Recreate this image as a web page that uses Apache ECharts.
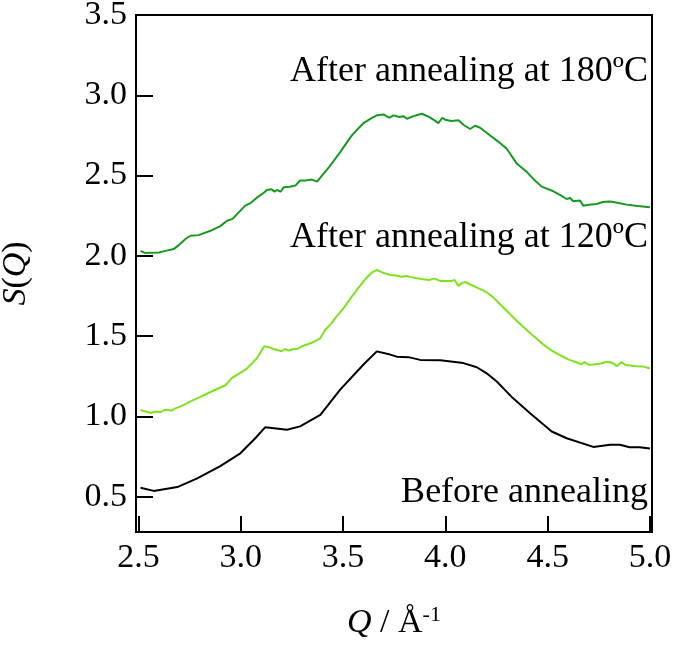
<!DOCTYPE html>
<html>
<head>
    <meta charset="utf-8">
    <title>S(Q)</title>
    <style type="text/css">
        * { margin: 0; padding: 0; }
        body { background: #fff; }
        #chart { width: 675px; height: 645px; }
    </style>
</head>
<body>
<div id="chart"></div>
<script src="https://cdn.jsdelivr.net/npm/echarts@6/dist/echarts.min.js"></script>
<script type="text/javascript">

    // tick labels
    let xTicks = [2.5, 3.0, 3.5, 4.0, 4.5, 5.0];
    let yTicks = [0.5, 1.0, 1.5, 2.0, 2.5, 3.0, 3.5];

    // before annealing  [Q, S(Q)]
    let beforeData = [
        [2.51, 0.556], [2.575, 0.536], [2.69, 0.56], [2.787, 0.614], [2.90, 0.69],
        [2.998, 0.77], [3.071, 0.864], [3.12, 0.933], [3.226, 0.917], [3.29, 0.938],
        [3.389, 1.01], [3.486, 1.167], [3.60, 1.323], [3.665, 1.405], [3.73, 1.385],
        [3.763, 1.372], [3.82, 1.369], [3.877, 1.352], [3.975, 1.35], [4.088, 1.332],
        [4.154, 1.306], [4.20, 1.27], [4.25, 1.219], [4.33, 1.114], [4.414, 1.02],
        [4.52, 0.906], [4.593, 0.864], [4.723, 0.81], [4.805, 0.823], [4.853, 0.823],
        [4.90, 0.808], [4.95, 0.808], [5.0, 0.80]
    ];

    // after annealing at 120C
    let anneal120Data = [
        [2.51, 1.04], [2.535, 1.03], [2.56, 1.021], [2.585, 1.03], [2.607, 1.027], [2.625, 1.038],
        [2.64, 1.042], [2.66, 1.036], [2.68, 1.05], [2.697, 1.058], [2.72, 1.07], [2.754, 1.094],
        [2.80, 1.12], [2.852, 1.152], [2.90, 1.18], [2.925, 1.194], [2.957, 1.24],
        [2.99, 1.265], [3.03, 1.298], [3.055, 1.33], [3.08, 1.364], [3.115, 1.437],
        [3.14, 1.43], [3.16, 1.42], [3.20, 1.406], [3.215, 1.42], [3.235, 1.41], [3.258, 1.42],
        [3.28, 1.422], [3.30, 1.437], [3.35, 1.46], [3.389, 1.486], [3.413, 1.54],
        [3.44, 1.575], [3.47, 1.625], [3.50, 1.67], [3.543, 1.746], [3.575, 1.80],
        [3.608, 1.854], [3.64, 1.895], [3.665, 1.912], [3.695, 1.895], [3.73, 1.881],
        [3.76, 1.878], [3.785, 1.87], [3.81, 1.875], [3.828, 1.869], [3.86, 1.86],
        [3.893, 1.854], [3.92, 1.85], [3.945, 1.858], [3.975, 1.844], [4.03, 1.844],
        [4.045, 1.85], [4.064, 1.8125], [4.08, 1.83], [4.097, 1.837], [4.154, 1.802],
        [4.20, 1.775], [4.235, 1.74], [4.292, 1.667], [4.35, 1.594], [4.414, 1.52],
        [4.45, 1.48], [4.479, 1.448], [4.52, 1.41], [4.56, 1.381], [4.60, 1.355],
        [4.64, 1.337], [4.665, 1.325], [4.68, 1.338], [4.70, 1.322], [4.723, 1.323],
        [4.76, 1.33], [4.79, 1.34], [4.805, 1.337], [4.825, 1.328], [4.837, 1.3125],
        [4.862, 1.338], [4.88, 1.32], [4.935, 1.3125], [4.97, 1.31], [5.0, 1.298]
    ];

    // after annealing at 180C
    let anneal180Data = [
        [2.51, 2.031], [2.534, 2.017], [2.56, 2.02], [2.60, 2.021], [2.632, 2.031],
        [2.672, 2.042], [2.70, 2.07], [2.73, 2.105], [2.754, 2.125], [2.794, 2.129],
        [2.852, 2.156], [2.90, 2.185], [2.933, 2.219], [2.96, 2.23], [2.982, 2.26],
        [3.022, 2.3125], [3.05, 2.33], [3.08, 2.364], [3.11, 2.39], [3.128, 2.41],
        [3.15, 2.415], [3.165, 2.40], [3.177, 2.41], [3.195, 2.40], [3.21, 2.427],
        [3.24, 2.43], [3.267, 2.4375], [3.29, 2.469], [3.32, 2.47], [3.348, 2.475],
        [3.373, 2.4625], [3.397, 2.50], [3.4375, 2.5625], [3.486, 2.646], [3.543, 2.75],
        [3.60, 2.827], [3.635, 2.855], [3.665, 2.875], [3.70, 2.88], [3.725, 2.86],
        [3.747, 2.875], [3.775, 2.865], [3.795, 2.87], [3.812, 2.854], [3.845, 2.87],
        [3.885, 2.885], [3.92, 2.865], [3.945, 2.845], [3.966, 2.827], [3.985, 2.86],
        [3.999, 2.848], [4.03, 2.84], [4.064, 2.844], [4.09, 2.815], [4.121, 2.79],
        [4.145, 2.81], [4.17, 2.798], [4.219, 2.75], [4.26, 2.71], [4.30, 2.667],
        [4.35, 2.573], [4.40, 2.52], [4.43, 2.479], [4.471, 2.431], [4.528, 2.402],
        [4.56, 2.38], [4.593, 2.354], [4.61, 2.36], [4.625, 2.34], [4.658, 2.344],
        [4.674, 2.3125], [4.70, 2.318], [4.74, 2.323], [4.77, 2.335], [4.805, 2.339],
        [4.84, 2.33], [4.886, 2.319], [4.94, 2.31], [5.0, 2.302]
    ];

    let curveNames = ['Before annealing', 'After annealing at 120ºC', 'After annealing at 180ºC'];
    let curveColors = ['#000000', '#7ee31c', '#17991f'];

    let fontFamily = '"Liberation Serif", "DejaVu Serif", serif';
    let fontSize = 34;
    let noteSize = 36;

    var myChart = echarts.init(document.getElementById('chart'));

    function makeLine(name, data, color) {
        return {
            name: name,
            type: 'line',
            data: data,
            showSymbol: false,
            symbol: 'none',
            animation: false,
            lineStyle: { color: color, width: 2 },
            z: 3
        };
    }

    var option = {
        backgroundColor: '#fff',
        grid: {
            left: 136,
            right: 23,
            top: 15,
            bottom: 113,
            outerBoundsMode: 'none',
            containLabel: false,
            show: true,
            borderColor: '#000',
            borderWidth: 2,
            backgroundColor: 'transparent'
        },
        xAxis: {
            type: 'value',
            min: 2.488,
            max: 5.01,
            name: '{i|Q} / Å{sup|-1}',
            nameLocation: 'middle',
            nameGap: 72,
            nameTextStyle: {
                fontFamily: fontFamily,
                fontSize: fontSize,
                color: '#000',
                rich: {
                    i: { fontFamily: fontFamily, fontSize: fontSize, fontStyle: 'italic', color: '#000' },
                    sup: { fontFamily: fontFamily, fontSize: 22, color: '#000', verticalAlign: 'top', padding: [0, 0, 16, 0] }
                }
            },
            axisLine: { show: true, lineStyle: { color: '#000', width: 2 } },
            axisTick: { show: true, inside: true, length: 16, customValues: xTicks, lineStyle: { color: '#000', width: 2 } },
            axisLabel: {
                customValues: xTicks,
                formatter: function (v) { return v.toFixed(1); },
                fontFamily: fontFamily,
                fontSize: fontSize,
                color: '#000',
                margin: 9
            },
            splitLine: { show: false }
        },
        yAxis: {
            type: 'value',
            min: 0.28,
            max: 3.5,
            name: '{i|S}({i|Q})',
            nameLocation: 'middle',
            nameGap: 103,
            nameRotate: 90,
            nameTextStyle: {
                fontFamily: fontFamily,
                fontSize: fontSize,
                color: '#000',
                rich: {
                    i: { fontFamily: fontFamily, fontSize: fontSize, fontStyle: 'italic', color: '#000' }
                }
            },
            axisLine: { show: true, lineStyle: { color: '#000', width: 2 } },
            axisTick: { show: true, inside: true, length: 17, customValues: yTicks, lineStyle: { color: '#000', width: 2 } },
            axisLabel: {
                customValues: yTicks,
                formatter: function (v) { return v.toFixed(1); },
                fontFamily: fontFamily,
                fontSize: fontSize,
                color: '#000',
                margin: 9
            },
            splitLine: { show: false }
        },
        graphic: [
            {
                type: 'text', right: 27, top: 54,
                style: { text: curveNames[2], font: noteSize + 'px ' + fontFamily, fill: '#000' }
            },
            {
                type: 'text', right: 27, top: 220,
                style: { text: curveNames[1], font: noteSize + 'px ' + fontFamily, fill: '#000' }
            },
            {
                type: 'text', right: 27, top: 475,
                style: { text: curveNames[0], font: noteSize + 'px ' + fontFamily, fill: '#000' }
            }
        ],
        series: [
            makeLine(curveNames[0], beforeData, curveColors[0]),
            makeLine(curveNames[1], anneal120Data, curveColors[1]),
            makeLine(curveNames[2], anneal180Data, curveColors[2])
        ]
    };

    myChart.setOption(option);
</script>
</body>
</html>
